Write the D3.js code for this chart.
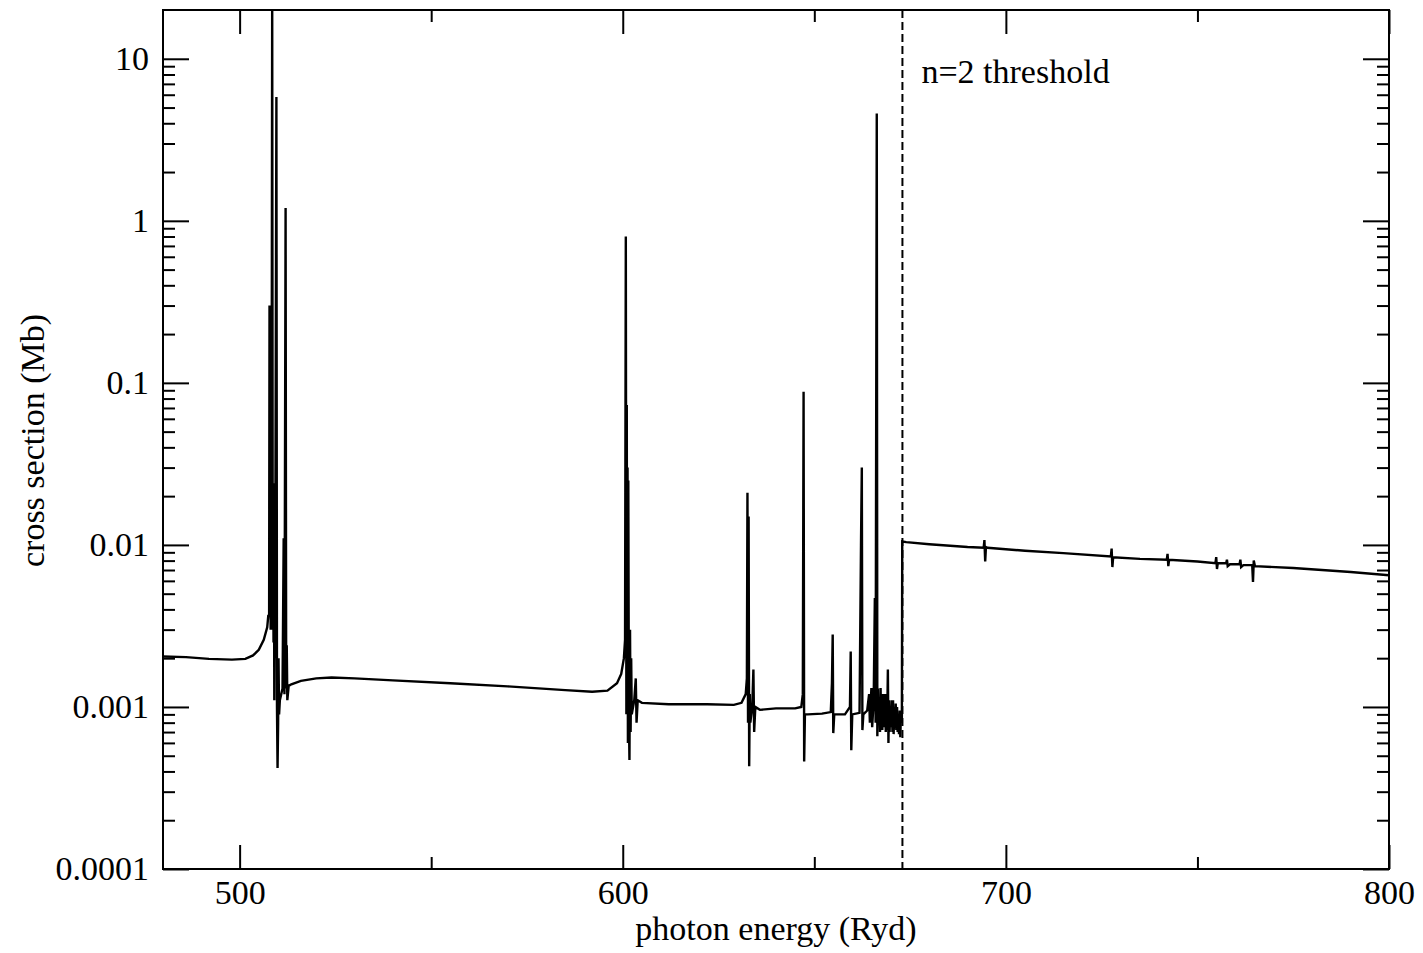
<!DOCTYPE html>
<html>
<head>
<meta charset="utf-8">
<script src="https://cdn.jsdelivr.net/npm/d3@7"></script>
<style>
  html, body { margin: 0; padding: 0; background: #fff; }
  svg text { font-family: "Liberation Serif", "DejaVu Serif", serif; fill: #000; }
</style>
</head>
<body>
<svg id="chart"></svg>
<script>
// photoionisation cross section (Mb) vs photon energy (Ryd)
const lowContinuum = [
  [480, 0.00205], [486, 0.00203], [492, 0.00198], [498, 0.00196], [501.5, 0.00198],
  [503.5, 0.00208], [505, 0.00225], [506.3, 0.0026], [507.2, 0.0031], [507.5, 0.0037]
]
const resonances508 = [
  [507.7, 0.0036], [507.8, 0.30], [507.9, 0.0042], [508.0, 0.0100], [508.1, 0.0030],
  [508.2, 0.0060], [508.3, 0.0035], [508.5, 25], [508.65, 0.0030], [508.75, 0.010],
  [508.85, 0.0025], [508.95, 0.024], [509.05, 0.0011], [509.15, 0.0045], [509.25, 0.0020],
  [509.6, 5.8], [509.75, 0.0010], [509.9, 0.00042], [510.05, 0.0008], [510.15, 0.0020],
  [510.3, 0.0009], [510.5, 0.0011], [511.2, 0.0013], [511.5, 0.011], [511.7, 0.0012],
  [512.0, 1.2], [512.15, 0.0013], [512.3, 0.0024], [512.45, 0.0011], [512.8, 0.00135]
]
const midContinuum = [
  [513.5, 0.00138], [516, 0.00145], [520, 0.00150], [524, 0.00152], [530, 0.00150],
  [540, 0.00146], [555, 0.00140], [570, 0.00134], [585, 0.00127], [592, 0.00124],
  [596, 0.00126], [598.5, 0.0014], [599.6, 0.0016], [600.3, 0.0020]
]
const resonances601 = [
  [600.6, 0.0026], [600.8, 0.80], [600.95, 0.0009], [601.05, 0.073], [601.15, 0.0012],
  [601.25, 0.030], [601.35, 0.0006], [601.45, 0.025], [601.6, 0.0009], [601.75, 0.00047],
  [601.9, 0.0030], [602.05, 0.0007], [602.2, 0.0020], [602.35, 0.0009], [603.0, 0.0011],
  [603.4, 0.0015], [603.6, 0.0008], [603.9, 0.0011], [605, 0.00106], [612, 0.00104],
  [622, 0.00104], [629, 0.00103], [631, 0.00106], [632.1, 0.0012], [632.4, 0.0015]
]
const resonances633 = [
  [632.55, 0.021], [632.7, 0.0008], [632.85, 0.015], [633.0, 0.00043], [633.15, 0.0012],
  [633.3, 0.0008], [633.8, 0.0010], [634.1, 0.0017], [634.3, 0.0007], [634.6, 0.0010],
  [635.8, 0.00096], [640, 0.00098], [645, 0.00098], [646.6, 0.0010], [647.0, 0.0012]
]
const resonances647 = [
  [647.2, 0.088], [647.35, 0.00046], [647.55, 0.0009], [648.3, 0.00090], [652, 0.00091],
  [654.3, 0.00093], [654.6, 0.0014], [654.8, 0.0028], [654.95, 0.00069], [655.2, 0.0009],
  [658, 0.00090], [659.3, 0.0010], [659.5, 0.0022], [659.65, 0.00054], [659.9, 0.0009],
  [661.8, 0.00092], [662.2, 0.011], [662.4, 0.030], [662.55, 0.00072], [662.8, 0.0009],
  [663.8, 0.00095]
]
const seriesLimit = [
  [664.3, 0.0012], [664.5, 0.0008], [664.9, 0.00131], [665.1, 0.00075], [665.5, 0.0011],
  [665.8, 0.0047], [666.0, 0.0008], [666.3, 4.6], [666.45, 0.00066], [666.6, 0.0013],
  [666.75, 0.0008], [667.0, 0.0011], [667.15, 0.0007], [667.3, 0.00131], [667.45, 0.00072],
  [667.6, 0.0012], [667.75, 0.00072], [667.9, 0.0011], [668.05, 0.00080], [668.2, 0.0012],
  [668.35, 0.00075], [668.5, 0.0012], [668.65, 0.00070], [668.8, 0.0011], [669.0, 0.00072],
  [669.2, 0.0017], [669.35, 0.00060], [669.5, 0.0011], [669.65, 0.00070], [669.8, 0.0010],
  [670.0, 0.00075], [670.2, 0.0011], [670.4, 0.00070], [670.55, 0.0011], [670.7, 0.00068],
  [670.9, 0.0010], [671.05, 0.00075], [671.25, 0.00105], [671.4, 0.00072], [671.6, 0.0010],
  [671.75, 0.00070], [671.95, 0.0009], [672.1, 0.00068], [672.3, 0.00095], [672.45, 0.00065],
  [672.6, 0.00090], [672.85, 0.0008]
]
const aboveThreshold = [
  [672.95, 0.0105], [674, 0.0104], [680, 0.0101], [690, 0.0097], [694.2, 0.0096],
  [694.4, 0.0107], [694.6, 0.0079], [694.8, 0.0097], [695.2, 0.0096], [705, 0.0092],
  [715, 0.0089], [727.4, 0.0085], [727.6, 0.0095], [727.8, 0.0073], [728.0, 0.0084],
  [735, 0.0082], [742.0, 0.0081], [742.2, 0.0088], [742.4, 0.0074], [742.6, 0.0081],
  [750, 0.0079], [754.7, 0.0077], [754.9, 0.0084], [755.1, 0.0071], [755.3, 0.0077],
  [757.5, 0.0077], [757.7, 0.0081], [757.9, 0.0074], [758.5, 0.0076], [761, 0.0076],
  [761.2, 0.0081], [761.4, 0.0073], [762, 0.0075], [764.3, 0.0075], [764.5, 0.0059],
  [764.7, 0.0080], [765, 0.0074], [775, 0.0072], [790, 0.0068], [800, 0.0065]
]

const thresholdEnergy = 673.0
const thresholdLabel = "n=2 threshold"
const xTicks = [500, 600, 700, 800]
const xMinorTicks = [550, 650, 750]
const yTicks = [10, 1, 0.1, 0.01, 0.001, 0.0001]
const yTickLabels = ["10", "1", "0.1", "0.01", "0.001", "0.0001"]
const xLabel = "photon energy (Ryd)"
const yLabel = "cross section (Mb)"

const W = 1423, H = 953
const margin = { top: 10, right: 34, bottom: 84, left: 163 }
const width = W - margin.left - margin.right
const height = H - margin.top - margin.bottom

const data = [].concat(lowContinuum, resonances508, midContinuum, resonances601,
  resonances633, resonances647, seriesLimit, aboveThreshold)

const svg = d3.select("#chart")
  .attr("width", W)
  .attr("height", H)
  .append("g")
    .attr("transform", `translate(${margin.left},${margin.top})`)

const x = d3.scaleLinear().domain([480, 800]).range([0, width])
const y = d3.scaleLog().domain([0.0001, 20]).range([height, 0])

const yMinor = []
yTicks.forEach(t => { for (let k = 2; k <= 9; k++) { const v = t * k; if (v < 20) yMinor.push(v) } })

svg.append("defs").append("clipPath").attr("id", "plot-clip")
  .append("rect").attr("width", width).attr("height", height)

const fontSize = 34

function styleAxis(g) {
  g.select(".domain").remove()
  g.selectAll(".tick line").attr("stroke", "#000").attr("stroke-width", 2)
  g.selectAll(".tick text").style("font-size", `${fontSize}px`).attr("fill", "#000")
}

// bottom + top
svg.append("g").attr("transform", `translate(0,${height})`)
  .call(d3.axisBottom(x).tickValues(xTicks).tickSize(-24).tickPadding(11).tickFormat(d3.format("d")))
  .call(styleAxis)
svg.append("g").attr("transform", `translate(0,${height})`)
  .call(d3.axisBottom(x).tickValues(xMinorTicks).tickSize(-12).tickFormat(""))
  .call(styleAxis)
svg.append("g")
  .call(d3.axisTop(x).tickValues(xTicks).tickSize(-24).tickFormat(""))
  .call(styleAxis)
svg.append("g")
  .call(d3.axisTop(x).tickValues(xMinorTicks).tickSize(-12).tickFormat(""))
  .call(styleAxis)

// left + right
svg.append("g")
  .call(d3.axisLeft(y).tickValues(yTicks).tickSize(-26).tickPadding(14)
    .tickFormat((d, i) => yTickLabels[i]))
  .call(styleAxis)
svg.append("g")
  .call(d3.axisLeft(y).tickValues(yMinor).tickSize(-12).tickFormat(""))
  .call(styleAxis)
svg.append("g").attr("transform", `translate(${width},0)`)
  .call(d3.axisRight(y).tickValues(yTicks).tickSize(-26).tickFormat(""))
  .call(styleAxis)
svg.append("g").attr("transform", `translate(${width},0)`)
  .call(d3.axisRight(y).tickValues(yMinor).tickSize(-12).tickFormat(""))
  .call(styleAxis)

const line = d3.line()
  .x(d => x(d[0]))
  .y(d => y(d[1]))

svg.append("path")
  .datum(data)
  .attr("clip-path", "url(#plot-clip)")
  .attr("fill", "none")
  .attr("stroke", "#000")
  .attr("stroke-width", 2.4)
  .attr("stroke-linejoin", "miter")
  .attr("d", line)

svg.append("line")
  .attr("x1", x(thresholdEnergy)).attr("x2", x(thresholdEnergy))
  .attr("y1", 0).attr("y2", height)
  .attr("stroke", "#000")
  .attr("stroke-width", 2)
  .attr("stroke-dasharray", "8,4")

svg.append("text")
  .attr("x", x(thresholdEnergy) + 19)
  .attr("y", 73)
  .style("font-size", `${fontSize}px`)
  .text(thresholdLabel)

svg.append("rect")
  .attr("width", width).attr("height", height)
  .attr("fill", "none").attr("stroke", "#000").attr("stroke-width", 2)

svg.append("text")
  .attr("x", width / 2)
  .attr("y", height + 71)
  .attr("text-anchor", "middle")
  .style("font-size", `${fontSize}px`)
  .text(xLabel)

svg.append("text")
  .attr("transform", `translate(${44 - margin.left},${height / 2 + 1}) rotate(-90)`)
  .attr("text-anchor", "middle")
  .style("font-size", `${fontSize}px`)
  .text(yLabel)
</script>
</body>
</html>
